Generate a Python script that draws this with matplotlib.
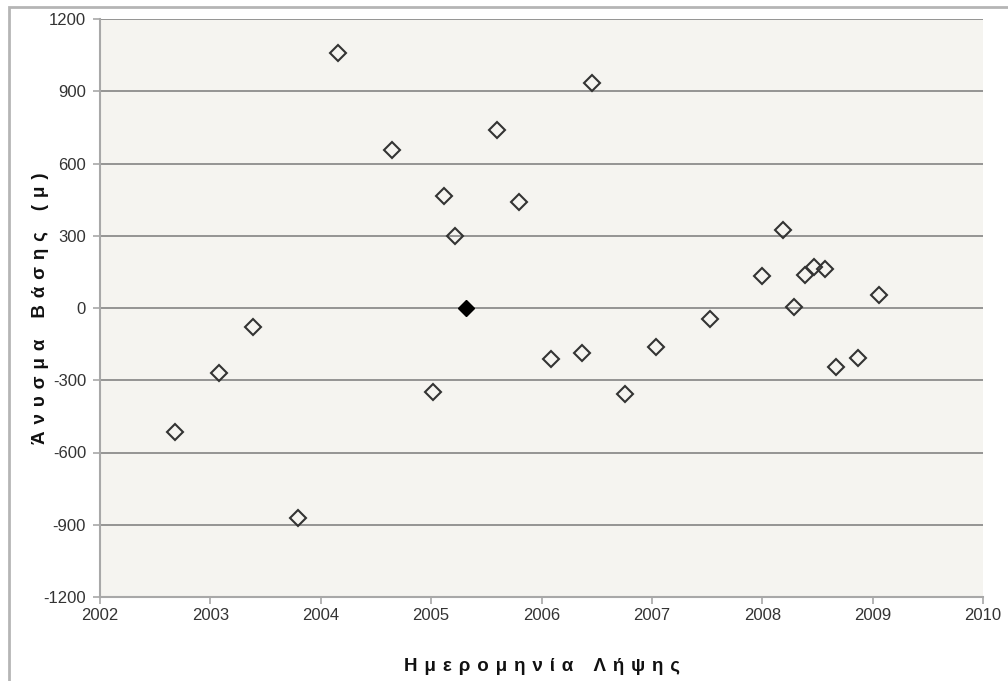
import matplotlib.pyplot as plt
from matplotlib.patches import Rectangle

plt.rcParams['font.family'] = ['Liberation Sans', 'DejaVu Sans']
plt.rcParams['axes.unicode_minus'] = False

# Ημερομηνία λήψης (δεκαδικό έτος) και άνυσμα βάσης (μ)
xronos = [2002.68, 2003.08, 2003.39, 2003.79, 2004.16, 2004.65, 2005.02,
          2005.12, 2005.22, 2005.60, 2005.80, 2006.09, 2006.37, 2006.46,
          2006.76, 2007.04, 2007.53, 2008.00, 2008.19, 2008.29, 2008.39,
          2008.47, 2008.57, 2008.67, 2008.87, 2009.06]
basi = [-513, -269, -79, -871, 1058, 655, -347,
        465, 299, 738, 439, -211, -186, 936,
        -359, -161, -45, 132, 324, 4, 138,
        171, 164, -244, -206, 55]

# εικόνα αναφοράς (master)
master_x = [2005.32]
master_y = [0]

xticks = list(range(2002, 2011))
yticks = list(range(-1200, 1201, 300))

fig = plt.figure(figsize=(10.08, 6.81), dpi=100)
ax = fig.add_axes([100 / 1008, 1 - 597 / 681, 883 / 1008, 578 / 681])
ax.set_facecolor('#f5f4f0')

# πλαίσιο γύρω από το διάγραμμα (κόβεται δεξιά και κάτω)
fig.patches.append(Rectangle((9 / 1008, -0.05), 1.1, 1.05 - 7 / 681,
                             transform=fig.transFigure, fill=False,
                             edgecolor='#b5b5b5', linewidth=2))

ax.set_xlim(2002, 2010)
ax.set_ylim(-1200, 1200)
ax.set_xticks(xticks)
ax.set_yticks(yticks)
ax.yaxis.grid(True, color='#8c8c8c', linewidth=1.3)
ax.set_axisbelow(True)

for s in ['top', 'right']:
    ax.spines[s].set_visible(False)
for s in ['left', 'bottom']:
    ax.spines[s].set_color('#a8a8a8')
    ax.spines[s].set_linewidth(1.5)
ax.tick_params(axis='both', colors='#a8a8a8', labelcolor='#333333',
               labelsize=12, length=5, width=1.2)
ax.tick_params(axis='x', pad=3)
ax.tick_params(axis='y', pad=5)

ax.plot(xronos, basi, linestyle='none', marker='D', markersize=8,
        markerfacecolor='none', markeredgecolor='#333333', markeredgewidth=1.5,
        zorder=3)
ax.plot(master_x, master_y, linestyle='none', marker='D', markersize=8,
        markerfacecolor='black', markeredgecolor='black', zorder=3)

gap = ' \u200a'
xlabel = '    '.join(gap.join(w) for w in 'Ημερομηνία Λήψης'.split())
ylabel = '    '.join(gap.join(w) for w in 'Άνυσμα Βάσης (μ)'.split())
ax.set_xlabel(xlabel, fontsize=13.5, fontweight='bold', color='#111111')
ax.set_ylabel(ylabel, fontsize=13.5, fontweight='bold', color='#111111')
ax.xaxis.set_label_coords(0.5, -0.105)
ax.yaxis.set_label_coords(-0.058, 0.5)

fig.savefig('out.png', dpi=100)
